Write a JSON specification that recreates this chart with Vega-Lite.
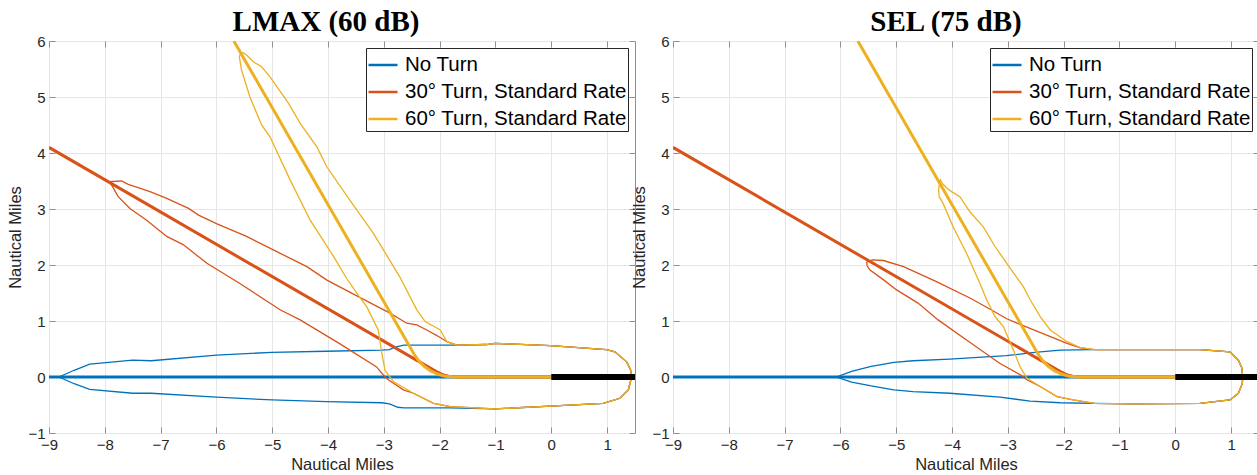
{
  "$schema": "https://vega.github.io/schema/vega-lite/v6.json",
  "padding": {"left": 7, "top": 7, "right": 0, "bottom": 0},
  "datasets": {
    "tracks": [
      {"series": "No Turn", "i": 0, "x": -9, "y": 0},
      {"series": "No Turn", "i": 1, "x": 0, "y": 0},
      {"series": "30° Turn, Standard Rate", "i": 0, "x": -9, "y": 4.1},
      {"series": "30° Turn, Standard Rate", "i": 1, "x": -2.06, "y": 0.096},
      {"series": "30° Turn, Standard Rate", "i": 2, "x": -1.946, "y": 0.043},
      {"series": "30° Turn, Standard Rate", "i": 3, "x": -1.825, "y": 0.011},
      {"series": "30° Turn, Standard Rate", "i": 4, "x": -1.7, "y": 0},
      {"series": "30° Turn, Standard Rate", "i": 5, "x": 0, "y": 0},
      {"series": "60° Turn, Standard Rate", "i": 0, "x": -5.688, "y": 6},
      {"series": "60° Turn, Standard Rate", "i": 1, "x": -2.46, "y": 0.41},
      {"series": "60° Turn, Standard Rate", "i": 2, "x": -2.378, "y": 0.293},
      {"series": "60° Turn, Standard Rate", "i": 3, "x": -2.277, "y": 0.192},
      {"series": "60° Turn, Standard Rate", "i": 4, "x": -2.16, "y": 0.11},
      {"series": "60° Turn, Standard Rate", "i": 5, "x": -2.03, "y": 0.049},
      {"series": "60° Turn, Standard Rate", "i": 6, "x": -1.892, "y": 0.012},
      {"series": "60° Turn, Standard Rate", "i": 7, "x": -1.75, "y": 0},
      {"series": "60° Turn, Standard Rate", "i": 8, "x": 0, "y": 0}
    ],
    "runway": [
      {"i": 0, "x": 0, "y": 0},
      {"i": 1, "x": 1.5, "y": 0}
    ],
    "lmax": [
      {"series": "No Turn", "i": 0, "x": -1.69, "y": 0.57},
      {"series": "No Turn", "i": 1, "x": -1.83, "y": 0.57},
      {"series": "No Turn", "i": 2, "x": -2.64, "y": 0.57},
      {"series": "No Turn", "i": 3, "x": -2.78, "y": 0.54},
      {"series": "No Turn", "i": 4, "x": -2.9, "y": 0.49},
      {"series": "No Turn", "i": 5, "x": -3.04, "y": 0.48},
      {"series": "No Turn", "i": 6, "x": -4.03, "y": 0.46},
      {"series": "No Turn", "i": 7, "x": -5.01, "y": 0.44},
      {"series": "No Turn", "i": 8, "x": -6.0, "y": 0.39},
      {"series": "No Turn", "i": 9, "x": -7.17, "y": 0.29},
      {"series": "No Turn", "i": 10, "x": -7.5, "y": 0.3},
      {"series": "No Turn", "i": 11, "x": -8.27, "y": 0.23},
      {"series": "No Turn", "i": 12, "x": -8.55, "y": 0.12},
      {"series": "No Turn", "i": 13, "x": -8.82, "y": 0},
      {"series": "No Turn", "i": 14, "x": -8.55, "y": -0.12},
      {"series": "No Turn", "i": 15, "x": -8.27, "y": -0.22},
      {"series": "No Turn", "i": 16, "x": -7.5, "y": -0.29},
      {"series": "No Turn", "i": 17, "x": -7.17, "y": -0.29},
      {"series": "No Turn", "i": 18, "x": -6.0, "y": -0.36},
      {"series": "No Turn", "i": 19, "x": -5.0, "y": -0.41},
      {"series": "No Turn", "i": 20, "x": -4.03, "y": -0.44},
      {"series": "No Turn", "i": 21, "x": -3.04, "y": -0.46},
      {"series": "No Turn", "i": 22, "x": -2.9, "y": -0.48},
      {"series": "No Turn", "i": 23, "x": -2.75, "y": -0.54},
      {"series": "No Turn", "i": 24, "x": -2.64, "y": -0.55},
      {"series": "No Turn", "i": 25, "x": -1.83, "y": -0.55},
      {"series": "No Turn", "i": 26, "x": -1.01, "y": -0.57},
      {"series": "No Turn", "i": 27, "x": -0.02, "y": -0.52},
      {"series": "No Turn", "i": 28, "x": 0.93, "y": -0.47},
      {"series": "No Turn", "i": 29, "x": 1.23, "y": -0.38},
      {"series": "No Turn", "i": 30, "x": 1.38, "y": -0.23},
      {"series": "No Turn", "i": 31, "x": 1.44, "y": 0},
      {"series": "No Turn", "i": 32, "x": 1.42, "y": 0.13},
      {"series": "No Turn", "i": 33, "x": 1.35, "y": 0.27},
      {"series": "No Turn", "i": 34, "x": 1.14, "y": 0.45},
      {"series": "No Turn", "i": 35, "x": 0.99, "y": 0.49},
      {"series": "No Turn", "i": 36, "x": -0.02, "y": 0.56},
      {"series": "No Turn", "i": 37, "x": -1.01, "y": 0.6},
      {"series": "No Turn", "i": 38, "x": -1.16, "y": 0.58},
      {"series": "No Turn", "i": 39, "x": -1.69, "y": 0.57},

      {"series": "30° Turn, Standard Rate", "i": 0, "x": -1.69, "y": 0.57},
      {"series": "30° Turn, Standard Rate", "i": 1, "x": -1.87, "y": 0.63},
      {"series": "30° Turn, Standard Rate", "i": 2, "x": -2.05, "y": 0.74},
      {"series": "30° Turn, Standard Rate", "i": 3, "x": -2.23, "y": 0.84},
      {"series": "30° Turn, Standard Rate", "i": 4, "x": -2.41, "y": 0.93},
      {"series": "30° Turn, Standard Rate", "i": 5, "x": -2.59, "y": 0.96},
      {"series": "30° Turn, Standard Rate", "i": 6, "x": -2.89, "y": 1.14},
      {"series": "30° Turn, Standard Rate", "i": 7, "x": -3.45, "y": 1.43},
      {"series": "30° Turn, Standard Rate", "i": 8, "x": -4.02, "y": 1.73},
      {"series": "30° Turn, Standard Rate", "i": 9, "x": -4.38, "y": 1.97},
      {"series": "30° Turn, Standard Rate", "i": 10, "x": -4.98, "y": 2.27},
      {"series": "30° Turn, Standard Rate", "i": 11, "x": -5.46, "y": 2.51},
      {"series": "30° Turn, Standard Rate", "i": 12, "x": -6.0, "y": 2.74},
      {"series": "30° Turn, Standard Rate", "i": 13, "x": -6.32, "y": 2.89},
      {"series": "30° Turn, Standard Rate", "i": 14, "x": -6.5, "y": 3.01},
      {"series": "30° Turn, Standard Rate", "i": 15, "x": -6.89, "y": 3.19},
      {"series": "30° Turn, Standard Rate", "i": 16, "x": -7.19, "y": 3.31},
      {"series": "30° Turn, Standard Rate", "i": 17, "x": -7.58, "y": 3.44},
      {"series": "30° Turn, Standard Rate", "i": 18, "x": -7.7, "y": 3.5},
      {"series": "30° Turn, Standard Rate", "i": 19, "x": -7.91, "y": 3.49},
      {"series": "30° Turn, Standard Rate", "i": 20, "x": -7.88, "y": 3.43},
      {"series": "30° Turn, Standard Rate", "i": 21, "x": -7.76, "y": 3.22},
      {"series": "30° Turn, Standard Rate", "i": 22, "x": -7.55, "y": 3.01},
      {"series": "30° Turn, Standard Rate", "i": 23, "x": -7.25, "y": 2.8},
      {"series": "30° Turn, Standard Rate", "i": 24, "x": -6.89, "y": 2.51},
      {"series": "30° Turn, Standard Rate", "i": 25, "x": -6.59, "y": 2.36},
      {"series": "30° Turn, Standard Rate", "i": 26, "x": -6.17, "y": 2.03},
      {"series": "30° Turn, Standard Rate", "i": 27, "x": -5.58, "y": 1.67},
      {"series": "30° Turn, Standard Rate", "i": 28, "x": -4.86, "y": 1.2},
      {"series": "30° Turn, Standard Rate", "i": 29, "x": -4.5, "y": 1.02},
      {"series": "30° Turn, Standard Rate", "i": 30, "x": -3.8, "y": 0.6},
      {"series": "30° Turn, Standard Rate", "i": 31, "x": -3.13, "y": 0.18},
      {"series": "30° Turn, Standard Rate", "i": 32, "x": -2.98, "y": 0.0},
      {"series": "30° Turn, Standard Rate", "i": 33, "x": -2.92, "y": -0.05},
      {"series": "30° Turn, Standard Rate", "i": 34, "x": -2.65, "y": -0.23},
      {"series": "30° Turn, Standard Rate", "i": 35, "x": -2.47, "y": -0.29},
      {"series": "30° Turn, Standard Rate", "i": 36, "x": -2.11, "y": -0.47},
      {"series": "30° Turn, Standard Rate", "i": 37, "x": -1.81, "y": -0.53},
      {"series": "30° Turn, Standard Rate", "i": 38, "x": -1.01, "y": -0.57},
      {"series": "30° Turn, Standard Rate", "i": 39, "x": -0.02, "y": -0.52},
      {"series": "30° Turn, Standard Rate", "i": 40, "x": 0.93, "y": -0.47},
      {"series": "30° Turn, Standard Rate", "i": 41, "x": 1.23, "y": -0.38},
      {"series": "30° Turn, Standard Rate", "i": 42, "x": 1.38, "y": -0.23},
      {"series": "30° Turn, Standard Rate", "i": 43, "x": 1.44, "y": 0},
      {"series": "30° Turn, Standard Rate", "i": 44, "x": 1.42, "y": 0.13},
      {"series": "30° Turn, Standard Rate", "i": 45, "x": 1.35, "y": 0.27},
      {"series": "30° Turn, Standard Rate", "i": 46, "x": 1.14, "y": 0.45},
      {"series": "30° Turn, Standard Rate", "i": 47, "x": 0.99, "y": 0.49},
      {"series": "30° Turn, Standard Rate", "i": 48, "x": -0.02, "y": 0.56},
      {"series": "30° Turn, Standard Rate", "i": 49, "x": -1.01, "y": 0.6},
      {"series": "30° Turn, Standard Rate", "i": 50, "x": -1.16, "y": 0.58},
      {"series": "30° Turn, Standard Rate", "i": 51, "x": -1.69, "y": 0.57},

      {"series": "60° Turn, Standard Rate", "i": 0, "x": -1.69, "y": 0.57},
      {"series": "60° Turn, Standard Rate", "i": 1, "x": -1.87, "y": 0.63},
      {"series": "60° Turn, Standard Rate", "i": 2, "x": -1.99, "y": 0.84},
      {"series": "60° Turn, Standard Rate", "i": 3, "x": -2.26, "y": 0.99},
      {"series": "60° Turn, Standard Rate", "i": 4, "x": -2.41, "y": 1.2},
      {"series": "60° Turn, Standard Rate", "i": 5, "x": -2.71, "y": 1.78},
      {"series": "60° Turn, Standard Rate", "i": 6, "x": -3.19, "y": 2.57},
      {"series": "60° Turn, Standard Rate", "i": 7, "x": -3.61, "y": 3.16},
      {"series": "60° Turn, Standard Rate", "i": 8, "x": -4.02, "y": 3.75},
      {"series": "60° Turn, Standard Rate", "i": 9, "x": -4.2, "y": 4.11},
      {"series": "60° Turn, Standard Rate", "i": 10, "x": -4.5, "y": 4.53},
      {"series": "60° Turn, Standard Rate", "i": 11, "x": -4.71, "y": 4.89},
      {"series": "60° Turn, Standard Rate", "i": 12, "x": -5.04, "y": 5.36},
      {"series": "60° Turn, Standard Rate", "i": 13, "x": -5.19, "y": 5.54},
      {"series": "60° Turn, Standard Rate", "i": 14, "x": -5.34, "y": 5.63},
      {"series": "60° Turn, Standard Rate", "i": 15, "x": -5.45, "y": 5.74},
      {"series": "60° Turn, Standard Rate", "i": 16, "x": -5.52, "y": 5.79},
      {"series": "60° Turn, Standard Rate", "i": 17, "x": -5.57, "y": 5.77},
      {"series": "60° Turn, Standard Rate", "i": 18, "x": -5.59, "y": 5.72},
      {"series": "60° Turn, Standard Rate", "i": 19, "x": -5.55, "y": 5.48},
      {"series": "60° Turn, Standard Rate", "i": 20, "x": -5.4, "y": 5.0},
      {"series": "60° Turn, Standard Rate", "i": 21, "x": -5.19, "y": 4.5},
      {"series": "60° Turn, Standard Rate", "i": 22, "x": -5.04, "y": 4.29},
      {"series": "60° Turn, Standard Rate", "i": 23, "x": -4.68, "y": 3.52},
      {"series": "60° Turn, Standard Rate", "i": 24, "x": -4.32, "y": 2.8},
      {"series": "60° Turn, Standard Rate", "i": 25, "x": -3.9, "y": 2.15},
      {"series": "60° Turn, Standard Rate", "i": 26, "x": -3.66, "y": 1.75},
      {"series": "60° Turn, Standard Rate", "i": 27, "x": -3.45, "y": 1.45},
      {"series": "60° Turn, Standard Rate", "i": 28, "x": -3.31, "y": 1.26},
      {"series": "60° Turn, Standard Rate", "i": 29, "x": -3.1, "y": 0.84},
      {"series": "60° Turn, Standard Rate", "i": 30, "x": -3.04, "y": 0.45},
      {"series": "60° Turn, Standard Rate", "i": 31, "x": -2.98, "y": 0.12},
      {"series": "60° Turn, Standard Rate", "i": 32, "x": -2.83, "y": -0.08},
      {"series": "60° Turn, Standard Rate", "i": 33, "x": -2.47, "y": -0.29},
      {"series": "60° Turn, Standard Rate", "i": 34, "x": -2.11, "y": -0.47},
      {"series": "60° Turn, Standard Rate", "i": 35, "x": -1.81, "y": -0.53},
      {"series": "60° Turn, Standard Rate", "i": 36, "x": -1.01, "y": -0.57},
      {"series": "60° Turn, Standard Rate", "i": 37, "x": -0.02, "y": -0.52},
      {"series": "60° Turn, Standard Rate", "i": 38, "x": 0.93, "y": -0.47},
      {"series": "60° Turn, Standard Rate", "i": 39, "x": 1.23, "y": -0.38},
      {"series": "60° Turn, Standard Rate", "i": 40, "x": 1.38, "y": -0.23},
      {"series": "60° Turn, Standard Rate", "i": 41, "x": 1.44, "y": 0},
      {"series": "60° Turn, Standard Rate", "i": 42, "x": 1.42, "y": 0.13},
      {"series": "60° Turn, Standard Rate", "i": 43, "x": 1.35, "y": 0.27},
      {"series": "60° Turn, Standard Rate", "i": 44, "x": 1.14, "y": 0.45},
      {"series": "60° Turn, Standard Rate", "i": 45, "x": 0.99, "y": 0.49},
      {"series": "60° Turn, Standard Rate", "i": 46, "x": -0.02, "y": 0.56},
      {"series": "60° Turn, Standard Rate", "i": 47, "x": -1.01, "y": 0.6},
      {"series": "60° Turn, Standard Rate", "i": 48, "x": -1.16, "y": 0.58},
      {"series": "60° Turn, Standard Rate", "i": 49, "x": -1.69, "y": 0.57}
    ],
    "sel": [
      {"series": "No Turn", "i": 0, "x": -1.45, "y": 0.49},
      {"series": "No Turn", "i": 1, "x": -2.06, "y": 0.48},
      {"series": "No Turn", "i": 2, "x": -2.42, "y": 0.45},
      {"series": "No Turn", "i": 3, "x": -2.6, "y": 0.43},
      {"series": "No Turn", "i": 4, "x": -3.03, "y": 0.38},
      {"series": "No Turn", "i": 5, "x": -4.04, "y": 0.32},
      {"series": "No Turn", "i": 6, "x": -4.7, "y": 0.29},
      {"series": "No Turn", "i": 7, "x": -5.04, "y": 0.26},
      {"series": "No Turn", "i": 8, "x": -5.45, "y": 0.19},
      {"series": "No Turn", "i": 9, "x": -5.8, "y": 0.1},
      {"series": "No Turn", "i": 10, "x": -6.07, "y": 0},
      {"series": "No Turn", "i": 11, "x": -5.8, "y": -0.09},
      {"series": "No Turn", "i": 12, "x": -5.45, "y": -0.16},
      {"series": "No Turn", "i": 13, "x": -5.04, "y": -0.23},
      {"series": "No Turn", "i": 14, "x": -4.7, "y": -0.26},
      {"series": "No Turn", "i": 15, "x": -4.04, "y": -0.29},
      {"series": "No Turn", "i": 16, "x": -3.14, "y": -0.36},
      {"series": "No Turn", "i": 17, "x": -2.6, "y": -0.43},
      {"series": "No Turn", "i": 18, "x": -2.06, "y": -0.46},
      {"series": "No Turn", "i": 19, "x": -1.45, "y": -0.47},
      {"series": "No Turn", "i": 20, "x": -0.75, "y": -0.48},
      {"series": "No Turn", "i": 21, "x": 0.44, "y": -0.47},
      {"series": "No Turn", "i": 22, "x": 0.98, "y": -0.41},
      {"series": "No Turn", "i": 23, "x": 1.13, "y": -0.29},
      {"series": "No Turn", "i": 24, "x": 1.2, "y": -0.12},
      {"series": "No Turn", "i": 25, "x": 1.21, "y": 0},
      {"series": "No Turn", "i": 26, "x": 1.19, "y": 0.17},
      {"series": "No Turn", "i": 27, "x": 1.13, "y": 0.3},
      {"series": "No Turn", "i": 28, "x": 0.98, "y": 0.45},
      {"series": "No Turn", "i": 29, "x": 0.44, "y": 0.49},
      {"series": "No Turn", "i": 30, "x": -0.75, "y": 0.49},
      {"series": "No Turn", "i": 31, "x": -1.45, "y": 0.49},

      {"series": "30° Turn, Standard Rate", "i": 0, "x": -1.45, "y": 0.49},
      {"series": "30° Turn, Standard Rate", "i": 1, "x": -1.7, "y": 0.52},
      {"series": "30° Turn, Standard Rate", "i": 2, "x": -1.94, "y": 0.6},
      {"series": "30° Turn, Standard Rate", "i": 3, "x": -2.36, "y": 0.77},
      {"series": "30° Turn, Standard Rate", "i": 4, "x": -2.78, "y": 0.94},
      {"series": "30° Turn, Standard Rate", "i": 5, "x": -3.02, "y": 1.04},
      {"series": "30° Turn, Standard Rate", "i": 6, "x": -3.3, "y": 1.2},
      {"series": "30° Turn, Standard Rate", "i": 7, "x": -3.68, "y": 1.41},
      {"series": "30° Turn, Standard Rate", "i": 8, "x": -4.27, "y": 1.7},
      {"series": "30° Turn, Standard Rate", "i": 9, "x": -4.87, "y": 1.97},
      {"series": "30° Turn, Standard Rate", "i": 10, "x": -5.23, "y": 2.08},
      {"series": "30° Turn, Standard Rate", "i": 11, "x": -5.43, "y": 2.09},
      {"series": "30° Turn, Standard Rate", "i": 12, "x": -5.53, "y": 2.05},
      {"series": "30° Turn, Standard Rate", "i": 13, "x": -5.52, "y": 1.98},
      {"series": "30° Turn, Standard Rate", "i": 14, "x": -5.47, "y": 1.91},
      {"series": "30° Turn, Standard Rate", "i": 15, "x": -5.22, "y": 1.73},
      {"series": "30° Turn, Standard Rate", "i": 16, "x": -5.0, "y": 1.56},
      {"series": "30° Turn, Standard Rate", "i": 17, "x": -4.61, "y": 1.32},
      {"series": "30° Turn, Standard Rate", "i": 18, "x": -4.25, "y": 1.02},
      {"series": "30° Turn, Standard Rate", "i": 19, "x": -3.74, "y": 0.66},
      {"series": "30° Turn, Standard Rate", "i": 20, "x": -3.14, "y": 0.24},
      {"series": "30° Turn, Standard Rate", "i": 21, "x": -2.78, "y": 0.04},
      {"series": "30° Turn, Standard Rate", "i": 22, "x": -2.66, "y": -0.05},
      {"series": "30° Turn, Standard Rate", "i": 23, "x": -2.42, "y": -0.17},
      {"series": "30° Turn, Standard Rate", "i": 24, "x": -2.12, "y": -0.35},
      {"series": "30° Turn, Standard Rate", "i": 25, "x": -1.83, "y": -0.41},
      {"series": "30° Turn, Standard Rate", "i": 26, "x": -1.45, "y": -0.47},
      {"series": "30° Turn, Standard Rate", "i": 27, "x": -0.75, "y": -0.48},
      {"series": "30° Turn, Standard Rate", "i": 28, "x": 0.44, "y": -0.47},
      {"series": "30° Turn, Standard Rate", "i": 29, "x": 0.98, "y": -0.41},
      {"series": "30° Turn, Standard Rate", "i": 30, "x": 1.13, "y": -0.29},
      {"series": "30° Turn, Standard Rate", "i": 31, "x": 1.2, "y": -0.12},
      {"series": "30° Turn, Standard Rate", "i": 32, "x": 1.21, "y": 0},
      {"series": "30° Turn, Standard Rate", "i": 33, "x": 1.19, "y": 0.17},
      {"series": "30° Turn, Standard Rate", "i": 34, "x": 1.13, "y": 0.3},
      {"series": "30° Turn, Standard Rate", "i": 35, "x": 0.98, "y": 0.45},
      {"series": "30° Turn, Standard Rate", "i": 36, "x": 0.44, "y": 0.49},
      {"series": "30° Turn, Standard Rate", "i": 37, "x": -0.75, "y": 0.49},
      {"series": "30° Turn, Standard Rate", "i": 38, "x": -1.45, "y": 0.49},

      {"series": "60° Turn, Standard Rate", "i": 0, "x": -1.45, "y": 0.49},
      {"series": "60° Turn, Standard Rate", "i": 1, "x": -1.71, "y": 0.53},
      {"series": "60° Turn, Standard Rate", "i": 2, "x": -1.94, "y": 0.63},
      {"series": "60° Turn, Standard Rate", "i": 3, "x": -2.24, "y": 0.84},
      {"series": "60° Turn, Standard Rate", "i": 4, "x": -2.42, "y": 1.08},
      {"series": "60° Turn, Standard Rate", "i": 5, "x": -2.6, "y": 1.38},
      {"series": "60° Turn, Standard Rate", "i": 6, "x": -2.72, "y": 1.61},
      {"series": "60° Turn, Standard Rate", "i": 7, "x": -3.02, "y": 2.03},
      {"series": "60° Turn, Standard Rate", "i": 8, "x": -3.23, "y": 2.33},
      {"series": "60° Turn, Standard Rate", "i": 9, "x": -3.44, "y": 2.68},
      {"series": "60° Turn, Standard Rate", "i": 10, "x": -3.68, "y": 2.95},
      {"series": "60° Turn, Standard Rate", "i": 11, "x": -3.86, "y": 3.22},
      {"series": "60° Turn, Standard Rate", "i": 12, "x": -4.01, "y": 3.31},
      {"series": "60° Turn, Standard Rate", "i": 13, "x": -4.09, "y": 3.37},
      {"series": "60° Turn, Standard Rate", "i": 14, "x": -4.17, "y": 3.45},
      {"series": "60° Turn, Standard Rate", "i": 15, "x": -4.21, "y": 3.52},
      {"series": "60° Turn, Standard Rate", "i": 16, "x": -4.24, "y": 3.36},
      {"series": "60° Turn, Standard Rate", "i": 17, "x": -4.23, "y": 3.22},
      {"series": "60° Turn, Standard Rate", "i": 18, "x": -4.16, "y": 3.1},
      {"series": "60° Turn, Standard Rate", "i": 19, "x": -3.98, "y": 2.68},
      {"series": "60° Turn, Standard Rate", "i": 20, "x": -3.74, "y": 2.21},
      {"series": "60° Turn, Standard Rate", "i": 21, "x": -3.5, "y": 1.67},
      {"series": "60° Turn, Standard Rate", "i": 22, "x": -3.38, "y": 1.38},
      {"series": "60° Turn, Standard Rate", "i": 23, "x": -3.23, "y": 1.08},
      {"series": "60° Turn, Standard Rate", "i": 24, "x": -3.08, "y": 0.9},
      {"series": "60° Turn, Standard Rate", "i": 25, "x": -2.9, "y": 0.48},
      {"series": "60° Turn, Standard Rate", "i": 26, "x": -2.78, "y": 0.18},
      {"series": "60° Turn, Standard Rate", "i": 27, "x": -2.66, "y": -0.02},
      {"series": "60° Turn, Standard Rate", "i": 28, "x": -2.42, "y": -0.17},
      {"series": "60° Turn, Standard Rate", "i": 29, "x": -2.12, "y": -0.35},
      {"series": "60° Turn, Standard Rate", "i": 30, "x": -1.83, "y": -0.41},
      {"series": "60° Turn, Standard Rate", "i": 31, "x": -1.45, "y": -0.47},
      {"series": "60° Turn, Standard Rate", "i": 32, "x": -0.75, "y": -0.48},
      {"series": "60° Turn, Standard Rate", "i": 33, "x": 0.44, "y": -0.47},
      {"series": "60° Turn, Standard Rate", "i": 34, "x": 0.98, "y": -0.41},
      {"series": "60° Turn, Standard Rate", "i": 35, "x": 1.13, "y": -0.29},
      {"series": "60° Turn, Standard Rate", "i": 36, "x": 1.2, "y": -0.12},
      {"series": "60° Turn, Standard Rate", "i": 37, "x": 1.21, "y": 0},
      {"series": "60° Turn, Standard Rate", "i": 38, "x": 1.19, "y": 0.17},
      {"series": "60° Turn, Standard Rate", "i": 39, "x": 1.13, "y": 0.3},
      {"series": "60° Turn, Standard Rate", "i": 40, "x": 0.98, "y": 0.45},
      {"series": "60° Turn, Standard Rate", "i": 41, "x": 0.44, "y": 0.49},
      {"series": "60° Turn, Standard Rate", "i": 42, "x": -0.75, "y": 0.49},
      {"series": "60° Turn, Standard Rate", "i": 43, "x": -1.45, "y": 0.49}
    ]
  },
  "hconcat": [
    {
      "title": {"text": "LMAX (60 dB)", "dx": -16},
      "width": 586,
      "height": 392,
      "layer": [
        {
          "data": {"name": "lmax"},
          "encoding": {
            "x": {"field": "x", "type": "quantitative", "scale": {"domain": [-9, 1.5], "nice": false, "zero": false}, "axis": {"title": "Nautical Miles", "values": [-9, -8, -7, -6, -5, -4, -3, -2, -1, 0, 1]}},
            "y": {"field": "y", "type": "quantitative", "scale": {"domain": [-1, 6], "nice": false, "zero": false}, "axis": {"title": "Nautical Miles", "values": [-1, 0, 1, 2, 3, 4, 5, 6]}},
            "order": {"field": "i", "type": "quantitative"},
            "color": {"field": "series", "type": "nominal", "title": null, "scale": {"domain": ["No Turn", "30° Turn, Standard Rate", "60° Turn, Standard Rate"], "range": ["#0072BD", "#D95319", "#EDB120"]}}
          },
          "layer": [
            {"transform": [{"filter": {"field": "series", "equal": "No Turn"}}], "mark": {"type": "line", "strokeWidth": 1.3, "clip": true}},
            {"data": {"name": "tracks"}, "transform": [{"filter": {"field": "series", "equal": "No Turn"}}], "mark": {"type": "line", "strokeWidth": 3, "clip": true}},
            {"transform": [{"filter": {"field": "series", "equal": "30° Turn, Standard Rate"}}], "mark": {"type": "line", "strokeWidth": 1.3, "clip": true}},
            {"data": {"name": "tracks"}, "transform": [{"filter": {"field": "series", "equal": "30° Turn, Standard Rate"}}], "mark": {"type": "line", "strokeWidth": 3, "clip": true}},
            {"transform": [{"filter": {"field": "series", "equal": "60° Turn, Standard Rate"}}], "mark": {"type": "line", "strokeWidth": 1.3, "clip": true}},
            {"data": {"name": "tracks"}, "transform": [{"filter": {"field": "series", "equal": "60° Turn, Standard Rate"}}], "mark": {"type": "line", "strokeWidth": 3, "clip": true}}
          ]
        },
        {
          "data": {"name": "runway"},
          "mark": {"type": "line", "color": "#000000", "strokeWidth": 6, "strokeCap": "butt", "clip": true},
          "encoding": {
            "x": {"field": "x", "type": "quantitative", "axis": {"orient": "top", "labels": false, "grid": false, "title": null, "values": [-9, -8, -7, -6, -5, -4, -3, -2, -1, 0, 1]}},
            "y": {"field": "y", "type": "quantitative", "axis": {"orient": "right", "labels": false, "grid": false, "title": null, "values": [-1, 0, 1, 2, 3, 4, 5, 6]}},
            "order": {"field": "i", "type": "quantitative"}
          }
        }
      ],
      "resolve": {"axis": {"x": "independent", "y": "independent"}}
    },
    {
      "title": {"text": "SEL (75 dB)", "dx": -20},
      "width": 586,
      "height": 392,
      "layer": [
        {
          "data": {"name": "sel"},
          "encoding": {
            "x": {"field": "x", "type": "quantitative", "scale": {"domain": [-9, 1.5], "nice": false, "zero": false}, "axis": {"title": "Nautical Miles", "values": [-9, -8, -7, -6, -5, -4, -3, -2, -1, 0, 1]}},
            "y": {"field": "y", "type": "quantitative", "scale": {"domain": [-1, 6], "nice": false, "zero": false}, "axis": {"title": "Nautical Miles", "values": [-1, 0, 1, 2, 3, 4, 5, 6]}},
            "order": {"field": "i", "type": "quantitative"},
            "color": {"field": "series", "type": "nominal", "title": null, "scale": {"domain": ["No Turn", "30° Turn, Standard Rate", "60° Turn, Standard Rate"], "range": ["#0072BD", "#D95319", "#EDB120"]}}
          },
          "layer": [
            {"transform": [{"filter": {"field": "series", "equal": "No Turn"}}], "mark": {"type": "line", "strokeWidth": 1.3, "clip": true}},
            {"data": {"name": "tracks"}, "transform": [{"filter": {"field": "series", "equal": "No Turn"}}], "mark": {"type": "line", "strokeWidth": 3, "clip": true}},
            {"transform": [{"filter": {"field": "series", "equal": "30° Turn, Standard Rate"}}], "mark": {"type": "line", "strokeWidth": 1.3, "clip": true}},
            {"data": {"name": "tracks"}, "transform": [{"filter": {"field": "series", "equal": "30° Turn, Standard Rate"}}], "mark": {"type": "line", "strokeWidth": 3, "clip": true}},
            {"transform": [{"filter": {"field": "series", "equal": "60° Turn, Standard Rate"}}], "mark": {"type": "line", "strokeWidth": 1.3, "clip": true}},
            {"data": {"name": "tracks"}, "transform": [{"filter": {"field": "series", "equal": "60° Turn, Standard Rate"}}], "mark": {"type": "line", "strokeWidth": 3, "clip": true}}
          ]
        },
        {
          "data": {"name": "runway"},
          "mark": {"type": "line", "color": "#000000", "strokeWidth": 6, "strokeCap": "butt", "clip": true},
          "encoding": {
            "x": {"field": "x", "type": "quantitative", "axis": {"orient": "top", "labels": false, "grid": false, "title": null, "values": [-9, -8, -7, -6, -5, -4, -3, -2, -1, 0, 1]}},
            "y": {"field": "y", "type": "quantitative", "axis": {"orient": "right", "labels": false, "grid": false, "title": null, "values": [-1, 0, 1, 2, 3, 4, 5, 6]}},
            "order": {"field": "i", "type": "quantitative"}
          }
        }
      ],
      "resolve": {"axis": {"x": "independent", "y": "independent"}}
    }
  ],
  "spacing": -5,
  "resolve": {"legend": {"color": "independent"}},
  "config": {
    "view": {"stroke": "#8f8f8f", "strokeWidth": 1},
    "axis": {
      "labelFont": "Liberation Sans",
      "labelFontSize": 15,
      "labelColor": "#262626",
      "labelFlush": false,
      "labelOverlap": false,
      "labelPadding": 10,
      "titleFont": "Liberation Sans",
      "titleFontSize": 16.5,
      "titleFontWeight": "normal",
      "titleColor": "#262626",
      "titlePadding": 4,
      "grid": true,
      "gridColor": "#e6e6e6",
      "gridWidth": 1,
      "domain": false,
      "tickColor": "#8f8f8f",
      "tickSize": -6
    },
    "legend": {
      "orient": "top-right",
      "offset": 7,
      "symbolType": "stroke",
      "symbolSize": 841,
      "symbolStrokeWidth": 2.5,
      "labelFont": "Liberation Sans",
      "labelFontSize": 20.5,
      "labelColor": "#000000",
      "labelOffset": 6,
      "labelLimit": 400,
      "padding": 1,
      "rowPadding": -4,
      "strokeColor": "#262626",
      "fillColor": "#ffffff"
    },
    "title": {
      "font": "Liberation Serif",
      "fontSize": 29,
      "fontWeight": "bold",
      "color": "#000000",
      "offset": -3
    }
  }
}
